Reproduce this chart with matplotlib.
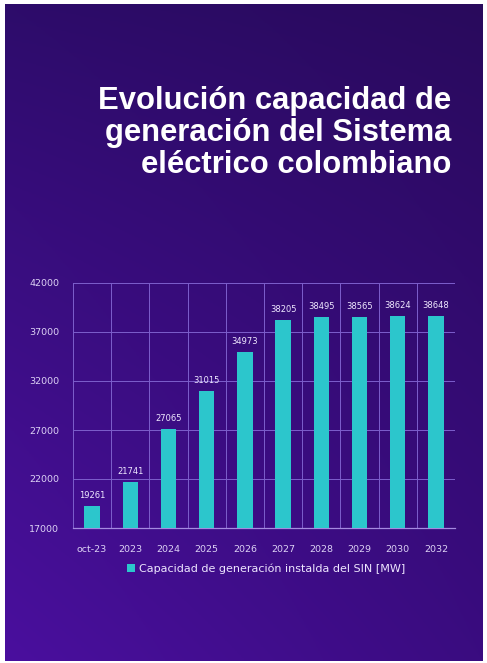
import numpy as np
import matplotlib
matplotlib.use("Agg")
import matplotlib.pyplot as plt
from matplotlib.colors import to_rgb

categories = ["oct-23", "2023", "2024", "2025", "2026", "2027", "2028", "2029", "2030", "2032"]
values = [19261, 21741, 27065, 31015, 34973, 38205, 38495, 38565, 38624, 38648]
yticks = [17000, 22000, 27000, 32000, 37000, 42000]
title = "Evolución capacidad de\ngeneración del Sistema\neléctrico colombiano"
legend_label = "Capacidad de generación instalda del SIN [MW]"

W, H = 487, 663
fig = plt.figure(figsize=(W / 100, H / 100), dpi=100)
fig.patch.set_facecolor("white")

# gradient background (bilinear between corner colours)
bg = fig.add_axes([5 / W, 2 / H, (483 - 5) / W, (659 - 2) / H])
bg.set_axis_off()
tl, tr = np.array(to_rgb("#2d0c6a")), np.array(to_rgb("#290a5c"))
bl, br = np.array(to_rgb("#4a0f9e")), np.array(to_rgb("#3a0c80"))
ny, nx = 200, 200
v = np.linspace(0, 1, ny)[:, None, None] ** 0.9
u = np.linspace(0, 1, nx)[None, :, None]
img = (1 - v) * ((1 - u) * tl + u * tr) + v * ((1 - u) * bl + u * br)
bg.imshow(img, aspect="auto", extent=[0, 1, 0, 1], origin="upper", zorder=0)
bg.set_xlim(0, 1)
bg.set_ylim(0, 1)

# title
fig.text(451 / W, 1 - 86 / H, title, ha="right", va="top", color="white",
         fontsize=22.3, fontweight="bold", family="Liberation Sans", linespacing=1.08)

# chart axes
left, right, top, bottom = 73, 455, 283, 528
ax = fig.add_axes([left / W, 1 - bottom / H, (right - left) / W, (bottom - top) / H])
ax.set_facecolor("none")
x = np.arange(len(categories))
ax.bar(x, values, width=0.4, color="#2cc6cc", zorder=3, label=legend_label)
ax.set_ylim(17000, 42000)
ax.set_xlim(-0.5, len(categories) - 0.5)
ax.set_yticks(yticks)
ax.set_yticklabels([str(v) for v in yticks])
ax.set_xticks(x)
ax.set_xticklabels(categories)
ax.set_xticks(np.arange(-0.5, len(categories), 1), minor=True)
grid_c = "#7d5fcc"
ax.grid(True, axis="y", color=grid_c, linewidth=0.7, zorder=1)
ax.grid(True, axis="x", which="minor", color=grid_c, linewidth=0.7, zorder=1)
ax.grid(False, axis="x", which="major")
for s in ["top", "right", "left"]:
    ax.spines[s].set_visible(False)
ax.spines["bottom"].set_color("#a58ae0")
ax.spines["bottom"].set_linewidth(0.9)
ax.tick_params(axis="both", which="both", length=0, colors="#ddd2f5", labelsize=6.8)
ax.tick_params(axis="x", pad=12)
ax.tick_params(axis="y", pad=10)
for xi, val in zip(x, values):
    ax.text(xi, val + 600, str(val), ha="center", va="bottom", fontsize=6, color="#efe8ff", zorder=4)

fig.legend(handles=ax.containers[0][:1], labels=[legend_label],
           loc="center", bbox_to_anchor=(266 / W, 1 - 569 / H), frameon=False,
           fontsize=8, labelcolor="#eee6ff", handlelength=0.7, handleheight=0.7,
           handletextpad=0.4)

fig.savefig("out.png", dpi=100)
